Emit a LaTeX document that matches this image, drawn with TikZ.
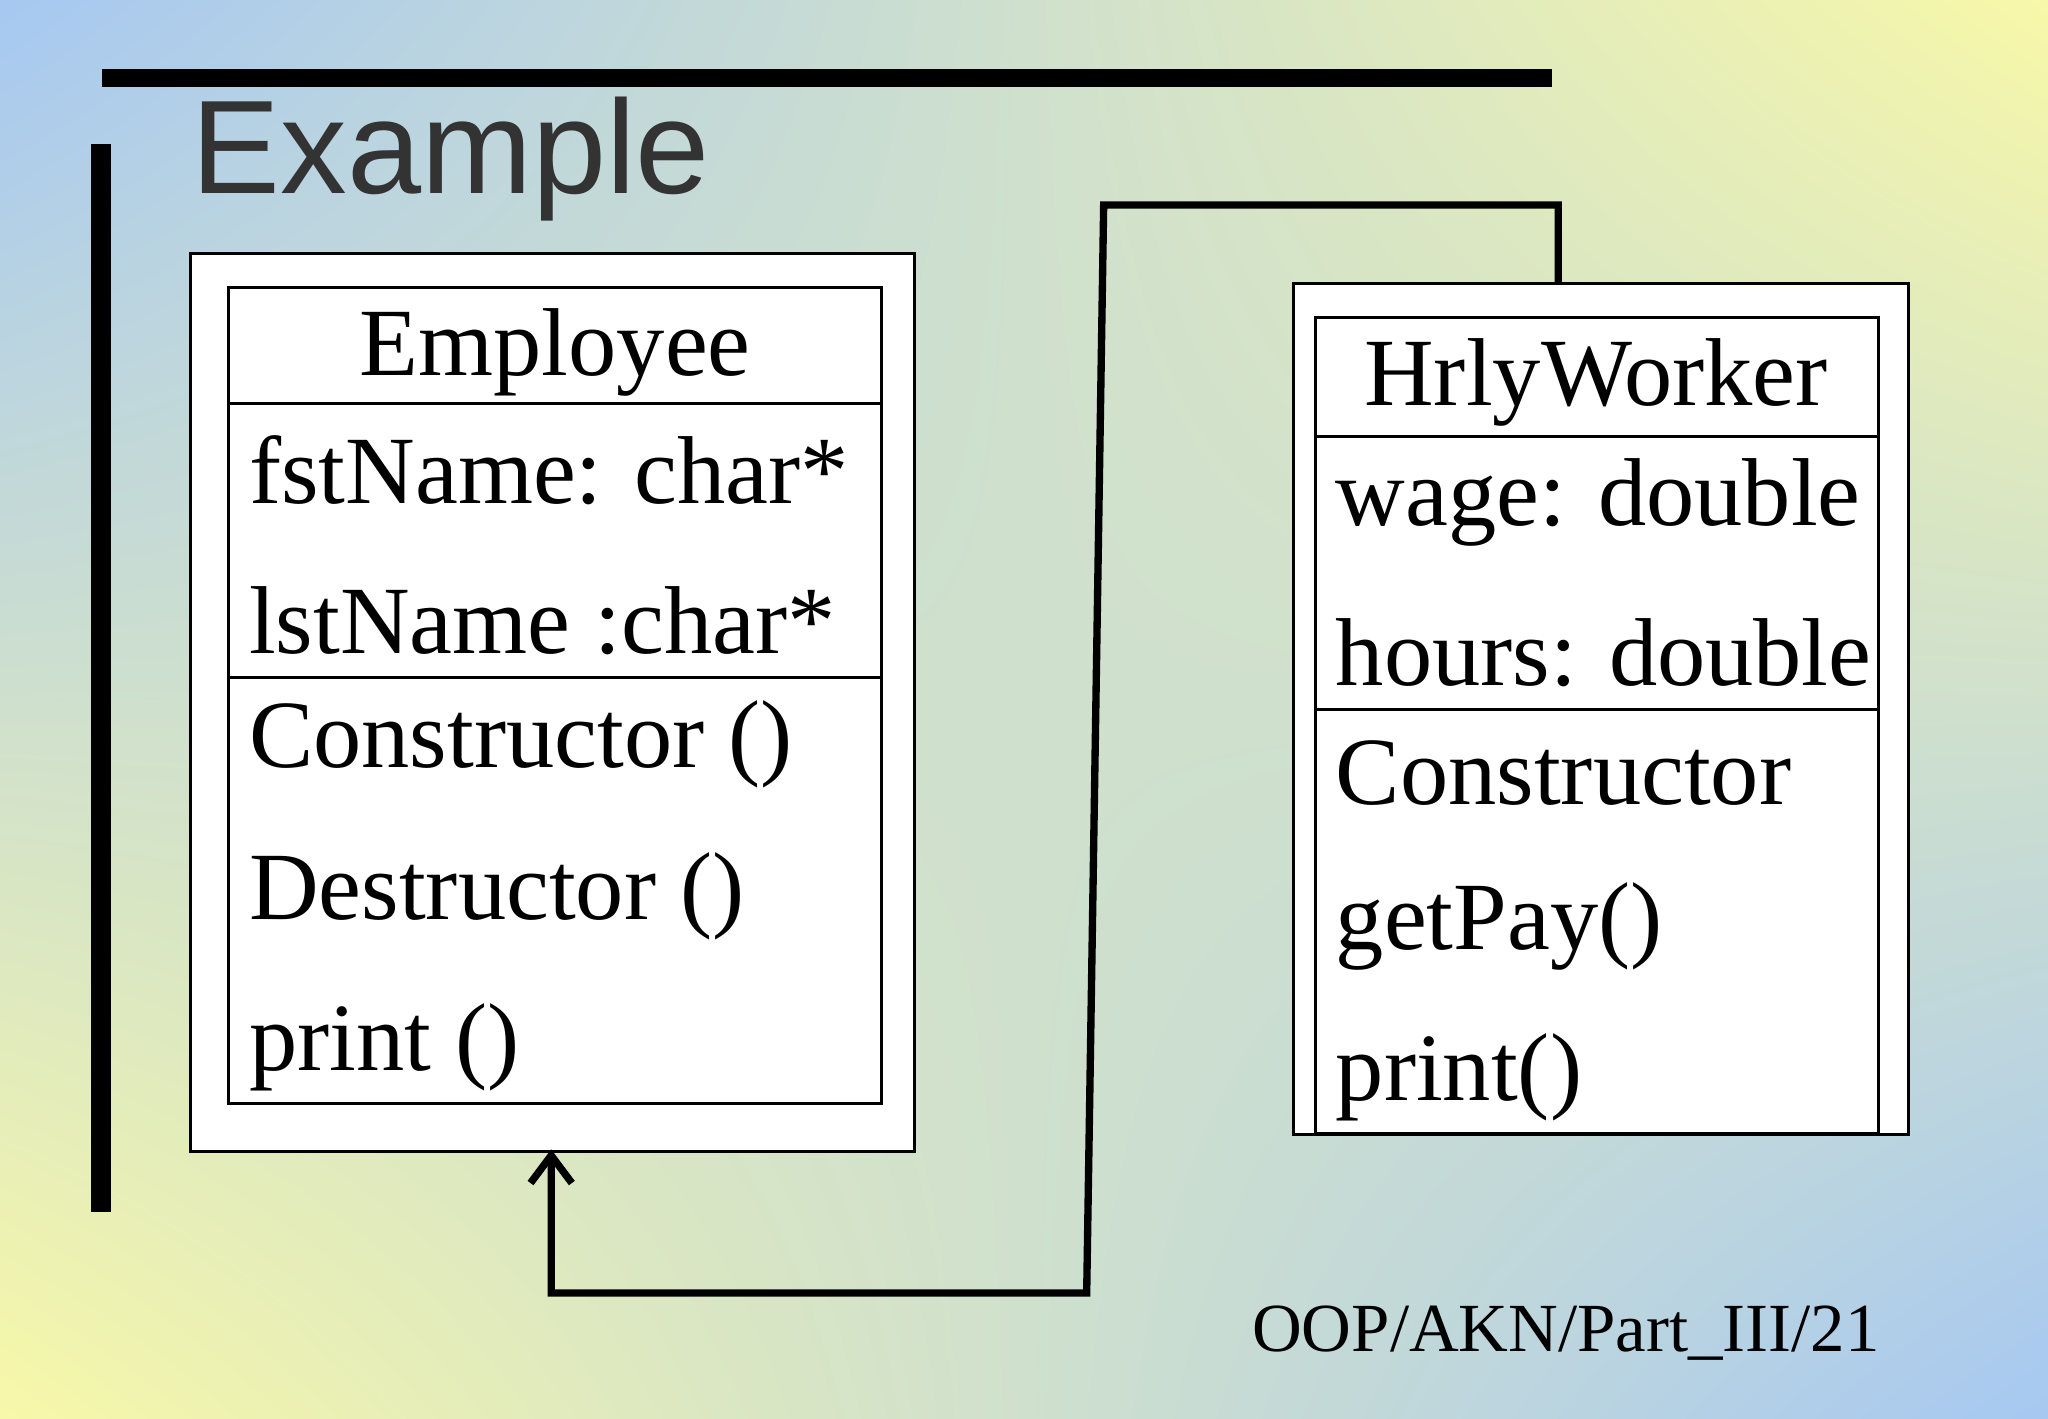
\documentclass[tikz,border=0pt]{standalone}
\usepackage{fontspec}
\setmainfont{Liberation Serif}
\newfontfamily\titlefont{Liberation Sans}
\usetikzlibrary{positioning,calc,shadings,arrows.meta}
\definecolor{bgblue}{HTML}{A6C8F2}
\definecolor{bgyellow}{HTML}{F8F8A8}
\tikzset{
  outerbox/.style={draw,fill=white,line width=0.6pt,anchor=north west,inner sep=0pt},
  member/.style={anchor=west,inner sep=0pt,font=\fontsize{21}{24}\selectfont},
  classname/.style={inner sep=0pt,font=\fontsize{21}{24}\selectfont},
  conn/.style={line width=1.6pt,-{Straight Barb[length=6pt,width=9pt]}}
}
\begin{document}
\begin{tikzpicture}[x=0.01cm,y=-0.01cm]
\useasboundingbox (0,0) rectangle (1568,1086);
\shade[upper left=bgblue,upper right=bgyellow,lower left=bgyellow,lower right=bgblue] (0,0) rectangle (1568,1086);
% title bars
\fill (78,53) rectangle (1188,67);
\fill (70,110) rectangle (85,928);
\node[anchor=base west,inner sep=0pt,text=black!80,font=\titlefont\fontsize{29}{32}\selectfont] (title) at (146,148) {Example};

% Employee
\node[outerbox,minimum width=5.54cm,minimum height=6.87cm] (empOuter) at (145,193) {};
\draw[line width=0.6pt] (175,220) rectangle (675,845);
\draw[line width=0.6pt] (175,309) -- (676,309) (175,519) -- (676,519);
\node[classname] (empName) at (425,270) {Employee};
\node[member] (empA) at (190,360) {fstName: char*};
\node[member] (empB) at (190,475) {lstName :char*};
\node[member] (empC) at (190,570) {Constructor ()};
\node[member] (empD) at (190,686) {Destructor ()};
\node[member] (empE) at (190,802) {print ()};

% HrlyWorker
\node[outerbox,minimum width=4.71cm,minimum height=6.51cm] (hwOuter) at (989,216) {};
\draw[line width=0.6pt] (1007,243) rectangle (1438,868);
\draw[line width=0.6pt] (1007,334) -- (1438,334) (1007,543) -- (1438,543);
\node[classname] (hwName) at (1222,293) {HrlyWorker};
\node[member] (hwA) at (1022,385) {wage: double};
\node[member] (hwB) at (1022,500) {hours: double};
\node[member] (hwC) at (1022,592) {Constructor};
\node[member] (hwD) at (1022,709) {getPay()};
\node[member] (hwE) at (1022,825) {print()};

% inheritance
\coordinate (hwTop) at (1193,216);
\coordinate (empBottom) at (422,880);
\draw[conn] (hwTop) -- (1193,157) -- (845,157) -- (832,990) -- (422,990) -- (empBottom);

\node[anchor=base east,inner sep=0pt,font=\fontsize{15}{18}\selectfont] (footer) at (1440,1035) {OOP/AKN/Part\_III/21};
\end{tikzpicture}
\end{document}
